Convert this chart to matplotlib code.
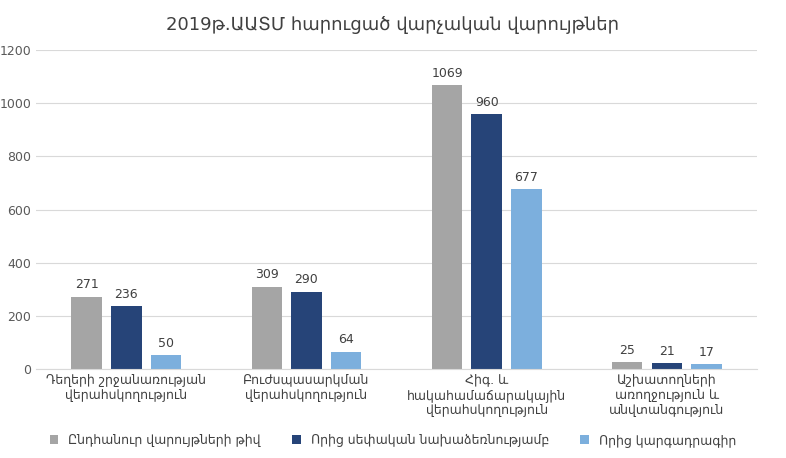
import matplotlib
matplotlib.use("Agg")
import matplotlib.pyplot as plt
import numpy as np

plt.rcParams['font.family'] = ['DejaVu Sans']
categories = ["Դեղերի շրջանառության\nվերահսկողություն", "Բուժսպասարկման\nվերահսկողություն",
              "Հիգ. և\nհակահամաճարակային\nվերահսկողություն", "Աշխատողների\nառողջություն և\nանվտանգություն"]
series = ["Ընդհանուր վարույթների թիվ", "Որից սեփական նախաձեռնությամբ", "Որից կարգադրագիր"]
values = [[271, 309, 1069, 25], [236, 290, 960, 21], [50, 64, 677, 17]]
colors = ["#a5a5a5", "#264478", "#7cafdd"]

fig = plt.figure(figsize=(7.86, 4.58), dpi=100)
ax = fig.add_axes([0.046, 0.195, 0.917, 0.695])
x = np.arange(len(categories))
w = 0.22
for i, (s, v, c) in enumerate(zip(series, values, colors)):
    pos = x + (i - 1) * w
    ax.bar(pos, v, w * 0.77, color=c, label=s)
    for p, val in zip(pos, v):
        ax.text(p, val + 20, str(val), ha='center', va='bottom', fontsize=9, color='#404040')
ax.set_ylim(0, 1200)
ax.set_xlim(-0.5, 3.5)
ax.set_yticks(range(0, 1201, 200))
ax.tick_params(axis='y', length=0, labelsize=9, colors='#595959')
ax.tick_params(axis='x', length=0, labelsize=9, colors='#404040')
ax.set_xticks(x)
ax.set_xticklabels(categories)
ax.grid(axis='y', color='#d9d9d9', lw=0.8)
ax.set_axisbelow(True)
for s in ['top', 'right', 'left']:
    ax.spines[s].set_visible(False)
ax.spines['bottom'].set_color('#d9d9d9')
fig.suptitle("2019թ.ԱԱՏՄ հարուցած վարչական վարույթներ", y=0.965, fontsize=13, color='#404040')
fig.legend(loc='lower center', ncol=3, frameon=False, fontsize=9, bbox_to_anchor=(0.5, 0.0),
           handlelength=0.7, handleheight=0.7, columnspacing=2.5, labelcolor='#404040')
fig.savefig("out.png")
